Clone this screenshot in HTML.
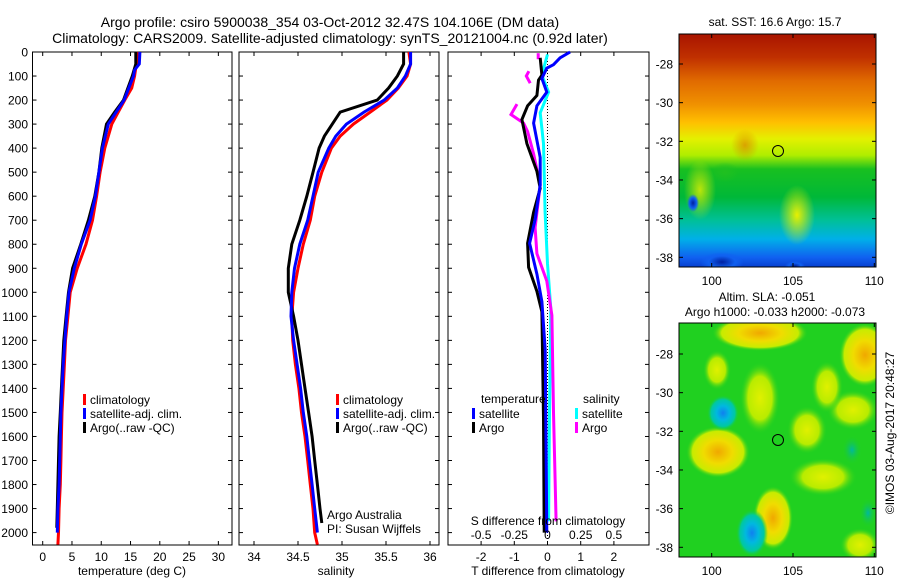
<!DOCTYPE html>
<html><head><meta charset="utf-8">
<style>
html,body{margin:0;padding:0;background:#fff;}
svg{display:block;font-family:"Liberation Sans",Arial,sans-serif;}
text{fill:#000;}
</style></head>
<body>
<svg id="fig" width="900" height="580" viewBox="0 0 900 580">
<defs>
<linearGradient id="sstGrad" x1="0" y1="0" x2="0" y2="1">
<stop offset="0" stop-color="#a81400"/><stop offset="0.1" stop-color="#c03000"/>
<stop offset="0.2" stop-color="#e06a00"/><stop offset="0.3" stop-color="#f09000"/>
<stop offset="0.38" stop-color="#ffc000"/><stop offset="0.45" stop-color="#e4f000"/>
<stop offset="0.52" stop-color="#b0ee00"/><stop offset="0.58" stop-color="#18c020"/>
<stop offset="0.7" stop-color="#00b838"/><stop offset="0.8" stop-color="#00c098"/>
<stop offset="0.88" stop-color="#00b0e8"/><stop offset="0.96" stop-color="#1060f0"/>
<stop offset="1" stop-color="#0840d0"/>
</linearGradient>
<radialGradient id="gOr"><stop offset="0" stop-color="#f0a800"/><stop offset="0.45" stop-color="#f0dc00"/><stop offset="0.8" stop-color="#c8ec00"/><stop offset="1" stop-color="#20d020" stop-opacity="0"/></radialGradient>
<radialGradient id="gYe"><stop offset="0" stop-color="#e0f000"/><stop offset="0.6" stop-color="#b8ec00"/><stop offset="1" stop-color="#20d020" stop-opacity="0"/></radialGradient>
<radialGradient id="gBl"><stop offset="0" stop-color="#1080f0"/><stop offset="0.4" stop-color="#00b8e0"/><stop offset="0.75" stop-color="#00c8a0"/><stop offset="1" stop-color="#20d020" stop-opacity="0"/></radialGradient>
<radialGradient id="gTe"><stop offset="0" stop-color="#00b8a0"/><stop offset="1" stop-color="#20d020" stop-opacity="0"/></radialGradient>
<radialGradient id="gDB"><stop offset="0" stop-color="#0020a0"/><stop offset="0.6" stop-color="#1060f0"/><stop offset="1" stop-color="#1060f0" stop-opacity="0"/></radialGradient>
<radialGradient id="gYS"><stop offset="0" stop-color="#e8f000"/><stop offset="1" stop-color="#e8f000" stop-opacity="0"/></radialGradient>
<radialGradient id="gGS"><stop offset="0" stop-color="#20c020"/><stop offset="1" stop-color="#20c020" stop-opacity="0"/></radialGradient>
<radialGradient id="gOS"><stop offset="0" stop-color="#e07000"/><stop offset="1" stop-color="#e07000" stop-opacity="0"/></radialGradient>
</defs>

<text x="330" y="27" font-size="14" text-anchor="middle">Argo profile: csiro 5900038_354 03-Oct-2012 32.47S 104.106E (DM data)</text>
<text x="330" y="43" font-size="14" text-anchor="middle">Climatology: CARS2009. Satellite-adjusted climatology: synTS_20121004.nc (0.92d later)</text>

<g id="p1"></g>
<g id="p2"></g>
<g id="p3"></g>

<g>
<svg x="679" y="34" width="197" height="233" viewBox="679 34 197 233">
<rect x="679" y="34" width="197" height="233" fill="url(#sstGrad)"/>
<ellipse cx="797" cy="215" rx="18" ry="30" fill="url(#gYS)"/>
<ellipse cx="745" cy="145" rx="14" ry="16" fill="url(#gOS)" opacity="0.6"/>
<ellipse cx="700" cy="190" rx="16" ry="30" fill="url(#gYS)" opacity="0.8"/>
<ellipse cx="725" cy="172" rx="14" ry="10" fill="url(#gGS)"/>
<ellipse cx="693" cy="203" rx="6" ry="9" fill="url(#gDB)"/>
<ellipse cx="722" cy="262" rx="22" ry="10" fill="url(#gDB)"/>
<ellipse cx="795" cy="266" rx="10" ry="5" fill="url(#gDB)"/>
</svg>
<rect x="679" y="34" width="197" height="233" fill="none" stroke="#000"/>
<circle cx="778" cy="151" r="5.5" fill="none" stroke="#000"/>
</g>
<text x="775" y="26" font-size="12" text-anchor="middle">sat. SST: 16.6 Argo: 15.7</text>

<g>
<svg x="679" y="323" width="197" height="234" viewBox="679 323 197 234">
<rect x="679" y="323" width="197" height="234" fill="#20d020"/>
<ellipse cx="760" cy="333" rx="48" ry="18" fill="url(#gOr)"/>
<ellipse cx="865" cy="355" rx="26" ry="32" fill="url(#gOr)"/>
<ellipse cx="718" cy="452" rx="32" ry="26" fill="url(#gOr)"/>
<ellipse cx="773" cy="518" rx="20" ry="32" fill="url(#gOr)"/>
<ellipse cx="760" cy="398" rx="20" ry="36" fill="url(#gYe)"/>
<ellipse cx="717" cy="370" rx="14" ry="20" fill="url(#gYe)"/>
<ellipse cx="807" cy="430" rx="20" ry="24" fill="url(#gYe)"/>
<ellipse cx="823" cy="477" rx="34" ry="19" fill="url(#gYe)"/>
<ellipse cx="860" cy="545" rx="20" ry="17" fill="url(#gYe)"/>
<ellipse cx="853" cy="410" rx="26" ry="20" fill="url(#gYe)"/>
<ellipse cx="827" cy="387" rx="16" ry="26" fill="url(#gYe)"/>
<ellipse cx="723" cy="413" rx="16" ry="18" fill="url(#gBl)"/>
<ellipse cx="752" cy="533" rx="16" ry="24" fill="url(#gBl)"/>
<ellipse cx="852" cy="450" rx="10" ry="15" fill="url(#gTe)"/>
<ellipse cx="868" cy="513" rx="9" ry="15" fill="url(#gTe)"/>
</svg>
<rect x="679" y="323" width="197" height="234" fill="none" stroke="#000"/>
<circle cx="778" cy="440" r="5.5" fill="none" stroke="#000"/>
</g>
<text x="767" y="301" font-size="12" text-anchor="middle">Altim. SLA: -0.051</text>
<text x="775" y="316" font-size="12" text-anchor="middle">Argo h1000: -0.033 h2000: -0.073</text>
<text transform="translate(894,433) rotate(-90)" font-size="12" text-anchor="middle">©IMOS 03-Aug-2017 20:48:27</text>
<g id="maps"></g>
</svg>

<script>
const depthTicks = [0,100,200,300,400,500,600,700,800,900,1000,1100,1200,1300,1400,1500,1600,1700,1800,1900,2000];
const tempTicks = [0,5,10,15,20,25,30];
const salTicks = [34,34.5,35,35.5,36];
const tdiffTicks = [-2,-1,0,1,2];
const sdiffTicks = [-0.5,-0.25,0,0.25,0.5];
const sdiffTickLabels = ["-0.5","-0.25","0","0.25","0.5"];

const tClimDepth = [0,100,150,200,250,300,400,500,600,700,800,900,1000,1100,1200,1300,1400,1500,1600,1700,1800,1900,2000,2050];
const tClim = [16.3,15.7,15.2,14.0,12.9,11.8,10.6,9.8,9.2,8.5,7.4,5.9,4.7,4.3,3.9,3.7,3.5,3.3,3.2,3.1,3.0,2.8,2.7,2.6];
const tSatDepth = [0,50,75,100,200,300,400,500,600,700,800,900,1000,1100,1200,1300,1400,1500,1600,1700,1800,1900,2000];
const tSat = [16.6,16.5,15.7,15.5,13.9,11.2,10.2,9.6,9.0,8.1,6.6,5.4,4.5,4.1,3.8,3.5,3.3,3.1,3.0,2.9,2.8,2.6,2.5];
const tArgoDepth = [0,50,100,200,250,300,400,500,600,700,800,900,1000,1100,1200,1300,1400,1500,1600,1700,1800,1900,1980];
const tArgo = [15.9,15.9,15.3,13.8,12.3,10.9,10.1,9.6,8.9,7.8,6.5,5.1,4.4,4.0,3.6,3.4,3.2,3.0,2.8,2.7,2.6,2.5,2.4];

const sClimDepth = [0,50,100,150,200,250,300,350,400,500,600,700,800,900,1000,1100,1200,1300,1400,1500,1600,1700,1800,1900,2000,2050];
const sClim = [35.76,35.78,35.74,35.64,35.51,35.32,35.13,34.98,34.88,34.77,34.69,34.64,34.56,34.50,34.45,34.43,34.44,34.47,34.51,34.54,34.58,34.61,34.64,34.67,34.69,34.72];
const sSatDepth = [0,50,100,150,200,250,300,350,400,500,600,700,800,900,1000,1100,1200,1300,1400,1500,1600,1700,1800,1900,2000];
const sSat = [35.78,35.78,35.72,35.63,35.48,35.25,35.05,34.93,34.85,34.73,34.67,34.61,34.52,34.46,34.43,34.42,34.45,34.49,34.53,34.56,34.60,34.63,34.66,34.69,34.72];
const sArgoDepth = [0,50,100,150,200,250,300,350,400,500,600,700,800,900,1000,1100,1200,1300,1400,1500,1600,1700,1800,1900,1960];
const sArgo = [35.70,35.70,35.63,35.53,35.40,34.98,34.89,34.80,34.74,34.67,34.60,34.52,34.43,34.39,34.39,34.45,34.50,34.54,34.58,34.62,34.66,34.69,34.72,34.75,34.77];

const dTSatDepth = [0,24,53,67,110,167,224,296,439,553,696,796,924,1039,1239,2000];
const dTSat = [0.68,0.38,0.18,-0.02,-0.17,-0.02,-0.32,-0.42,-0.22,-0.22,-0.37,-0.54,-0.32,-0.17,-0.07,-0.02];
const dTArgoDepth = [24,96,117,181,224,281,381,496,567,667,796,896,996,1081,1524,2000];
const dTArgo = [-0.22,-0.17,-0.27,-0.32,-0.60,-0.77,-0.62,-0.32,-0.22,-0.42,-0.60,-0.57,-0.32,-0.17,-0.12,-0.10];
const dSSatDepth = [10,96,167,253,381,667,881,1067,1500,1953];
const dSSat = [0,-0.043,0.008,-0.055,-0.03,-0.018,0,0.025,0.015,0.008];
const dSArgoDepth = [217,260,296,331,424,553,731,839,953,1096,1500,1953];
const dSArgo = [-0.23,-0.275,-0.18,-0.15,-0.105,-0.055,-0.093,-0.08,-0.005,0.033,0.045,0.065];
const dSArgoTopDepth = [5,30];
const dSArgoTop = [-0.07,-0.07];
const dSArgoMidDepth = [80,100,130];
const dSArgoMid = [-0.14,-0.16,-0.13];

const latTicks = [-28,-30,-32,-34,-36,-38];
const lonTicks = [100,105,110];

const NS = "http://www.w3.org/2000/svg";
function mk(parent, tag, attrs, txt){
  const e = document.createElementNS(NS, tag);
  for (const k in attrs) e.setAttribute(k, attrs[k]);
  if (txt !== undefined) e.textContent = txt;
  parent.appendChild(e);
  return e;
}
const yTop = 52, yBot = 545;
const yD = d => yTop + d * 0.2403;

function panel(g, x0, x1, xs, ticks, labels, drawDepthLabels){
  const fr = mk(g, "rect", {x:x0, y:yTop, width:x1-x0, height:yBot-yTop, fill:"none", stroke:"#000"});
  
  
  depthTicks.forEach(d => {
    const y = yD(d);
    mk(g, "line", {x1:x0, x2:x0+4, y1:y, y2:y, stroke:"#000"});
    mk(g, "line", {x1:x1-4, x2:x1, y1:y, y2:y, stroke:"#000"});
    if (drawDepthLabels) {
      const t = mk(g, "text", {x:28, y:y+4.5, "font-size":12, "text-anchor":"end"}, String(d));
      
      
    }
  });
  ticks.forEach((v,i) => {
    const x = xs(v);
    mk(g, "line", {x1:x, x2:x, y1:yTop, y2:yTop+4, stroke:"#000"});
    mk(g, "line", {x1:x, x2:x, y1:yBot-4, y2:yBot, stroke:"#000"});
    const t = mk(g, "text", {x:x, y:561, "font-size":12, "text-anchor":"middle"}, labels[i]);
    
    
  });
}
function line(g, xs, xv, dv, color, name, w){
  const pts = xv.map((v,i) => xs(v).toFixed(1) + "," + yD(dv[i]).toFixed(1)).join(" ");
  const p = mk(g, "polyline", {points:pts, fill:"none", stroke:color, "stroke-width":w||3, "stroke-linejoin":"miter"});
  
  
}
function legend(g, x, y, color, label, name){
  mk(g, "rect", {x:x, y:y-9, width:3, height:11, fill:color});
  const t = mk(g, "text", {x:x+7, y:y+1, "font-size":12}, label);
  
  
}

const p1 = document.getElementById("p1");
const xT = v => 42.7 + v * 5.855;
panel(p1, 32.5, 232, xT, tempTicks, tempTicks.map(String), true);
line(p1, xT, tClim, tClimDepth, "#ff0000", "temp-climatology-line");
line(p1, xT, tArgo, tArgoDepth, "#000000", "temp-argo-line");
line(p1, xT, tSat, tSatDepth, "#0000ff", "temp-satellite-line");
const xl1 = mk(p1, "text", {x:132, y:575, "font-size":12, "text-anchor":"middle"}, "temperature (deg C)");


legend(p1, 83, 403, "#ff0000", "climatology", "legend-climatology");
legend(p1, 83, 417, "#0000ff", "satellite-adj. clim.", "legend-satellite");
legend(p1, 83, 431, "#000000", "Argo(..raw -QC)", "legend-argo");

const p2 = document.getElementById("p2");
const xS = v => 254 + (v - 34) * 88;
panel(p2, 239, 439, xS, salTicks, salTicks.map(String), false);
line(p2, xS, sClim, sClimDepth, "#ff0000", "sal-climatology-line");
line(p2, xS, sArgo, sArgoDepth, "#000000", "sal-argo-line");
line(p2, xS, sSat, sSatDepth, "#0000ff", "sal-satellite-line");
const xl2 = mk(p2, "text", {x:336, y:575, "font-size":12, "text-anchor":"middle"}, "salinity");


legend(p2, 336, 403, "#ff0000", "climatology", "legend-climatology");
legend(p2, 336, 417, "#0000ff", "satellite-adj. clim.", "legend-satellite");
legend(p2, 336, 431, "#000000", "Argo(..raw -QC)", "legend-argo");
const aa = mk(p2, "text", {x:327, y:519, "font-size":12}, "Argo Australia");


const pi = mk(p2, "text", {x:327, y:533, "font-size":12}, "PI: Susan Wijffels");



const p3 = document.getElementById("p3");
const xDT = v => 547.5 + v * 33.2;
const xDS = v => xDT(v * 4);
panel(p3, 448, 649, xDT, tdiffTicks, tdiffTicks.map(String), false);
mk(p3, "line", {x1:xDT(0), x2:xDT(0), y1:yTop, y2:yBot, stroke:"#000", "stroke-dasharray":"1,2"});
line(p3, xDS, dSSat, dSSatDepth, "#00ffff", "sal-diff-satellite-line");
line(p3, xDS, dSArgo, dSArgoDepth, "#ff00ff", "sal-diff-argo-line");
line(p3, xDS, dSArgoTop, dSArgoTopDepth, "#ff00ff", "sal-diff-argo-line-top");
line(p3, xDS, dSArgoMid, dSArgoMidDepth, "#ff00ff", "sal-diff-argo-line-mid");
line(p3, xDT, dTArgo, dTArgoDepth, "#000000", "temp-diff-argo-line");
line(p3, xDT, dTSat, dTSatDepth, "#0000ff", "temp-diff-satellite-line");
sdiffTicks.forEach((v,i) => {
  const t = mk(p3, "text", {x:xDS(v), y:539, "font-size":12, "text-anchor":"middle"}, sdiffTickLabels[i]);
  
  
});
const sdt = mk(p3, "text", {x:548, y:525, "font-size":12, "text-anchor":"middle"}, "S difference from climatology");


const tdt = mk(p3, "text", {x:548, y:575, "font-size":12, "text-anchor":"middle"}, "T difference from climatology");


const lt = mk(p3, "text", {x:481, y:403, "font-size":12}, "temperature");


const ls = mk(p3, "text", {x:583, y:403, "font-size":12}, "salinity");


legend(p3, 472, 417, "#0000ff", "satellite", "legend-temp-satellite");
legend(p3, 472, 431, "#000000", "Argo", "legend-temp-argo");
legend(p3, 575, 417, "#00ffff", "satellite", "legend-sal-satellite");
legend(p3, 575, 431, "#ff00ff", "Argo", "legend-sal-argo");

const maps = document.getElementById("maps");
const xLon = v => 711.7 + (v - 100) * 16.26;
function mapAxes(top, bot, lat28, lat38, lonY){
  const yLat = v => lat28 + (v + 28) / -10 * (lat38 - lat28);
  latTicks.forEach(v => {
    const y = yLat(v);
    mk(maps, "line", {x1:679, x2:683, y1:y, y2:y, stroke:"#000"});
    mk(maps, "line", {x1:872, x2:876, y1:y, y2:y, stroke:"#000"});
    const t = mk(maps, "text", {x:673, y:y+4.5, "font-size":12, "text-anchor":"end"}, String(v));
    
    
  });
  lonTicks.forEach(v => {
    const x = xLon(v);
    mk(maps, "line", {x1:x, x2:x, y1:top, y2:top+4, stroke:"#000"});
    mk(maps, "line", {x1:x, x2:x, y1:bot-4, y2:bot, stroke:"#000"});
    const t = mk(maps, "text", {x:x, y:lonY, "font-size":12, "text-anchor":"middle"}, String(v));
    
    
  });
}
mapAxes(34, 267, 64, 257.3, 285);
mapAxes(323, 557, 354, 547.3, 575);
</script>
</body></html>
